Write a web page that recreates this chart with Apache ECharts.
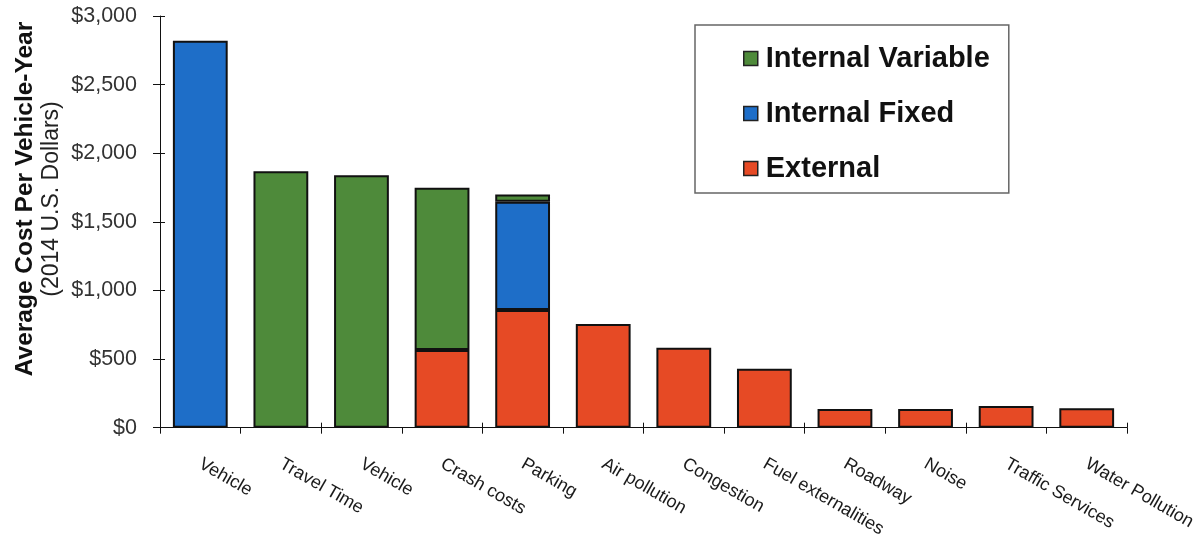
<!DOCTYPE html>
<html><head><meta charset="utf-8">
<script src="https://cdn.jsdelivr.net/npm/echarts@6/dist/echarts.min.js"></script>
<style>html,body{margin:0;padding:0;background:#fff}#c{width:1200px;height:540px}</style>
</head><body><div id="c"></div>
<script>
const categories = ['Vehicle','Travel Time','Vehicle','Crash costs','Parking','Air pollution','Congestion','Fuel externalities','Roadway','Noise','Traffic Services','Water Pollution'];
const externalCosts    = [null, null, null, 566, 857, 755, 583, 430, 136, 136, 158, 141];
const internalFixed    = [2820, null, null, null, 789, null, null, null, null, null, null, null];
const internalVariable = [null, 1869, 1840, 1182, 54, null, null, null, null, null, null, null];
const yMin = 0, yMax = 3000, yStep = 500;
const yTitle = 'Average Cost Per Vehicle-Year';
const ySubtitle = '(2014 U.S. Dollars)';

const FONT = 'Liberation Sans, Arial, sans-serif';
const COLORS = { 'Internal Variable': '#4e8a3a', 'Internal Fixed': '#1e6ec8', 'External': '#e64a25' };
const chart = echarts.init(document.getElementById('c'), null, { renderer: 'canvas' });
function fmt(v){ return '$' + v.toLocaleString('en-US'); }
function mkSeries(name, data){
  return { name, type:'bar', stack:'total', data, xAxisIndex:0, yAxisIndex:0,
    barWidth:'68%', itemStyle:{ color: COLORS[name], borderColor:'#111', borderWidth:2 },
    emphasis:{ disabled:true } };
}
chart.setOption({
  animation:false,
  textStyle:{ fontFamily: FONT },
  grid:{ left:160, right:73, top:16, bottom:112, containLabel:false },
  xAxis:[{
    type:'category', data:categories, boundaryGap:true,
    axisLine:{ lineStyle:{ color:'#111', width:1 } },
    axisTick:{ show:true, length:6, alignWithLabel:false, lineStyle:{ color:'#111' } },
    axisLabel:{ rotate:-30, margin:35, fontSize:18, color:'#1a1a1a', fontFamily:FONT, interval:0 }
  },{
    type:'category', data:categories, position:'bottom', boundaryGap:true,
    axisLine:{ show:false }, axisLabel:{ show:false },
    axisTick:{ show:true, inside:true, length:5, lineStyle:{ color:'#111' } }
  }],
  yAxis:[{
    type:'value', min:yMin, max:yMax, interval:yStep,
    axisLine:{ show:true, lineStyle:{ color:'#111', width:1 } },
    axisTick:{ show:true, length:7, lineStyle:{ color:'#111' } },
    splitLine:{ show:false },
    axisLabel:{ formatter:fmt, fontSize:21.5, color:'#333', margin:23, fontFamily:FONT }
  },{
    type:'value', min:yMin, max:yMax, interval:yStep, position:'left',
    axisLine:{ show:false }, axisLabel:{ show:false }, splitLine:{ show:false },
    axisTick:{ show:true, inside:true, length:5, lineStyle:{ color:'#111' } }
  }],
  legend:{
    left:695, top:25, orient:'vertical', itemGap:26,
    data:['Internal Variable','Internal Fixed','External'],
    backgroundColor:'#fff', borderColor:'#666', borderWidth:1.5, borderRadius:0,
    padding:[19, 19, 10, 48],
    itemWidth:14, itemHeight:14, icon:'rect',
    itemStyle:{ borderColor:'#222', borderWidth:1.5 },
    textStyle:{ fontSize:29, fontWeight:'bold', color:'#111', fontFamily:FONT, lineHeight:29, padding:[0,0,0,3] }
  },
  graphic:[
    { type:'text', x:25, y:199, rotation:Math.PI/2,
      style:{ text:yTitle, font:'bold 24.5px ' + FONT, fill:'#111', textAlign:'center', textVerticalAlign:'middle', align:'center', verticalAlign:'middle' } },
    { type:'text', x:52, y:199, rotation:Math.PI/2,
      style:{ text:ySubtitle, font:'23px ' + FONT, fill:'#222', textAlign:'center', textVerticalAlign:'middle', align:'center', verticalAlign:'middle' } }
  ],
  series:[
    mkSeries('External', externalCosts),
    mkSeries('Internal Fixed', internalFixed),
    mkSeries('Internal Variable', internalVariable)
  ]
});
</script></body></html>
